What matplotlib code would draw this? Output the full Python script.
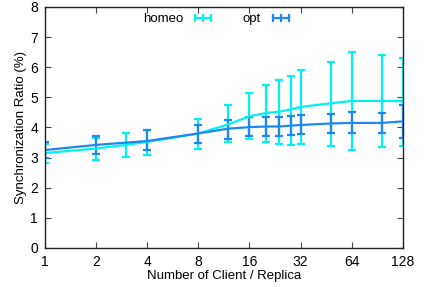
import matplotlib
matplotlib.use("Agg")
import matplotlib.pyplot as plt
from matplotlib.lines import Line2D
import numpy as np

# homeo series
homeo_x = [1, 2, 3, 4, 8, 12, 16, 20, 24, 28, 32, 48, 64, 96, 128]
homeo_y = [3.15, 3.30, 3.42, 3.52, 3.80, 4.10, 4.37, 4.48, 4.52, 4.60, 4.68, 4.80, 4.88, 4.88, 4.87]
homeo_lo = [2.83, 2.92, 3.01, 3.07, 3.28, 3.51, 3.62, 3.53, 3.46, 3.42, 3.45, 3.40, 3.26, 3.35, 3.37]
homeo_hi = [3.45, 3.65, 3.83, 3.90, 4.29, 4.73, 5.13, 5.40, 5.57, 5.72, 5.89, 6.18, 6.50, 6.39, 6.31]

# opt series
opt_x = [1, 2, 4, 8, 12, 16, 20, 24, 28, 32, 48, 64, 96, 128]
opt_y = [3.25, 3.42, 3.55, 3.80, 3.96, 4.01, 4.03, 4.03, 4.06, 4.08, 4.13, 4.15, 4.15, 4.20]
opt_lo = [3.00, 3.12, 3.26, 3.48, 3.62, 3.70, 3.70, 3.70, 3.75, 3.78, 3.81, 3.81, 3.81, 3.65]
opt_hi = [3.53, 3.73, 3.92, 4.09, 4.26, 4.35, 4.35, 4.35, 4.38, 4.40, 4.46, 4.50, 4.48, 4.75]

xticks = [1, 2, 4, 8, 16, 32, 64, 128]

plt.rcParams['font.family'] = ['Liberation Sans', 'DejaVu Sans']

fig = plt.figure(figsize=(4.29, 2.87), dpi=100)
ax = fig.add_axes([0.105, 0.136, 0.834, 0.840])

series = [
    ('homeo', homeo_x, homeo_y, homeo_lo, homeo_hi, '#00f2f2'),
    ('opt', opt_x, opt_y, opt_lo, opt_hi, '#1e88f0'),
]
handles = []
for name, x, y, lo, hi, c in series:
    y = np.array(y)
    err = [y - np.array(lo), np.array(hi) - y]
    ax.errorbar(x, y, yerr=err, color=c, lw=1.6, elinewidth=1.6,
                capsize=2.6, capthick=1.6)
    # gnuplot style key sample: line with ticks
    handles.append(Line2D([], [], color=c, lw=1.6, marker='|', ms=6,
                          mew=1.6, label=name))

ax.set_xscale('log', base=2)
ax.set_xlim(1, 128)
ax.set_ylim(0, 8)
ax.set_xticks(xticks)
ax.set_xticklabels([str(t) for t in xticks])
ax.minorticks_off()
ax.set_yticks(range(0, 9))
ax.tick_params(direction='in', top=True, right=True, length=4, width=0.8,
               labelsize=10, pad=5, color='#444444')
for s in ax.spines.values():
    s.set_linewidth(1.0)
    s.set_color('#222222')

ax.set_xlabel('Number of Client / Replica', fontsize=9.5, labelpad=1)
ax.set_ylabel('Synchronization Ratio (%)', fontsize=9.5, labelpad=2)

ax.legend(handles=handles, loc='upper left', ncol=2, frameon=False,
          markerfirst=False, fontsize=9.5, handlelength=1.8,
          handletextpad=0.6, columnspacing=2.1, numpoints=3,
          bbox_to_anchor=(0.274, 0.975), borderpad=0, borderaxespad=0)

fig.savefig('out.png', dpi=100)
